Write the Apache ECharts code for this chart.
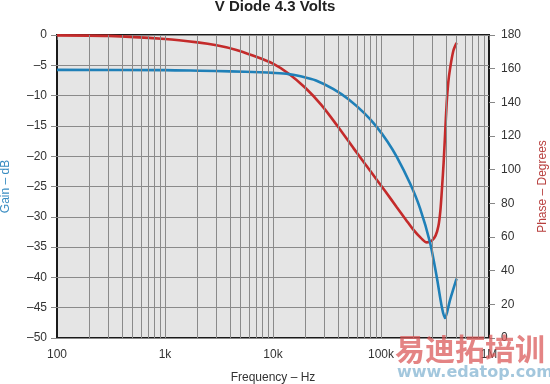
<!DOCTYPE html>
<html>
<head>
<meta charset="utf-8">
<script src="https://cdn.jsdelivr.net/npm/echarts@6/dist/echarts.min.js"></script>
<style>
html,body{margin:0;padding:0;background:#fff;}
#c{width:550px;height:384px;}
</style>
</head>
<body>
<div id="c"></div>
<script>
// ---- data ----
const gainFreq = [100, 1000, 2100, 4000, 7600, 10000, 14000, 18000, 25000, 36000, 50000, 70000, 91200, 115000, 140000, 186000, 230000, 284000, 328000, 365000, 391000, 436000, 501000];
const gainDb   = [-5.75, -5.8, -5.9, -6.0, -6.15, -6.25, -6.45, -6.8, -7.5, -8.9, -10.6, -12.9, -15.15, -17.6, -20.1, -24.5, -28.6, -34.2, -39.9, -44.8, -46.7, -43.7, -40.2];

const phaseFreq = [100, 300, 1000, 2000, 3000, 4500, 6500, 10000, 14000, 20000, 28000, 40000, 56000, 80000, 110000, 140000, 170000, 200000, 235000, 265000, 295000, 320000, 340000, 355000, 368000, 380000, 392000, 406000, 420000, 436000, 467000, 501000];
const phaseDeg  = [179.8, 179.5, 177.6, 175.6, 173.9, 171.3, 167.8, 163.0, 157.0, 148.5, 138.5, 125.5, 112.5, 99, 87, 77.7, 70.3, 64.2, 59.3, 56.8, 57.8, 60.8, 66.5, 76, 90, 104, 121, 140, 152, 160, 170.5, 175.3];

const freqTickLabels = {100: '100', 1000: '1k', 10000: '10k', 100000: '100k', 1000000: '1M'};
const gridFreqs = [200,300,400,500,600,700,800,900,1000,2000,3000,4000,5000,6000,7000,8000,9000,10000,20000,30000,40000,50000,60000,70000,80000,90000,100000,200000,300000,400000,500000,600000,700000,800000,900000];

const title = 'V Diode 4.3 Volts';
const xName = 'Frequency – Hz';
const yLeftName = 'Gain – dB';
const yRightName = 'Phase – Degrees';

// ---- chart ----
const pairs = (xs, ys) => xs.map((x, i) => [x, ys[i]]);
const chart = echarts.init(document.getElementById('c'), null, {renderer: 'canvas'});
const font = "'Liberation Sans', Arial, sans-serif";

chart.setOption({
  animation: false,
  backgroundColor: '#ffffff',
  textStyle: {fontFamily: font},
  title: {
    text: title, left: 'center', top: -1, padding: 0,
    textStyle: {fontSize: 15, fontWeight: 'bold', color: '#222', fontFamily: font}
  },
  grid: {
    left: 57, right: 61, top: 35, bottom: 46,
    containLabel: false, outerBoundsMode: 'none',
    show: true, backgroundColor: '#e5e5e5', borderColor: '#1a1a1a', borderWidth: 2
  },
  xAxis: {
    type: 'log', logBase: 10, min: 100, max: 1000000,
    name: xName, nameLocation: 'middle', nameGap: 34,
    nameTextStyle: {fontSize: 12, color: '#333', fontFamily: font},
    axisLine: {show: false},
    axisTick: {show: true, length: 5, lineStyle: {color: '#666'}},
    axisLabel: {fontSize: 12, color: '#333', margin: 11, formatter: v => freqTickLabels[Math.round(v)] || ''},
    splitLine: {show: false}
  },
  yAxis: [{
    type: 'value', min: -50, max: 0, interval: 5, position: 'left',
    name: yLeftName, nameLocation: 'middle', nameGap: 45, nameRotate: 90,
    nameTextStyle: {fontSize: 12, color: '#3a8dc2', fontFamily: font},
    axisLine: {show: false},
    axisTick: {show: true, length: 6, lineStyle: {color: '#888'}},
    axisLabel: {fontSize: 12, color: '#333', margin: 10, formatter: v => v === 0 ? '0' : '–' + Math.abs(v)},
    splitLine: {show: true, lineStyle: {color: '#8a8a8a', width: 1}}
  }, {
    type: 'value', min: 0, max: 180, interval: 20, position: 'right',
    name: yRightName, nameLocation: 'middle', nameGap: 48, nameRotate: 90,
    nameTextStyle: {fontSize: 12, color: '#b8403f', fontFamily: font},
    axisLine: {show: false},
    axisTick: {show: true, length: 6, lineStyle: {color: '#888'}},
    axisLabel: {fontSize: 12, color: '#333', margin: 12},
    splitLine: {show: false}
  }],
  series: [{
    name: 'grid', type: 'line', data: [], z: 1, silent: true,
    markLine: {
      silent: true, symbol: 'none', animation: false,
      label: {show: false},
      lineStyle: {color: '#8a8a8a', width: 1, type: 'solid'},
      emphasis: {disabled: true},
      data: gridFreqs.map(v => ({xAxis: v}))
    }
  }, {
    name: 'Phase', type: 'line', yAxisIndex: 1, z: 3,
    data: pairs(phaseFreq, phaseDeg), smooth: 0.3, showSymbol: false,
    lineStyle: {color: '#c42b2b', width: 2.6}
  }, {
    name: 'Gain', type: 'line', yAxisIndex: 0, z: 4,
    data: pairs(gainFreq, gainDb), smooth: 0.3, showSymbol: false,
    lineStyle: {color: '#1f80b8', width: 2.6}
  }],
  graphic: [{
    type: 'text', left: 395, top: 334, z: 100, silent: true,
    style: {text: '易迪拓培训', font: "bold 30px 'Noto Sans CJK SC'", fill: 'rgba(218,85,85,0.72)'}
  }, {
    type: 'text', left: 397, top: 365, z: 100, silent: true,
    style: {text: 'www.edatop.com', font: "bold 16px 'DejaVu Sans'", fill: 'rgba(140,185,212,0.8)'}
  }]
});
</script>
</body>
</html>
